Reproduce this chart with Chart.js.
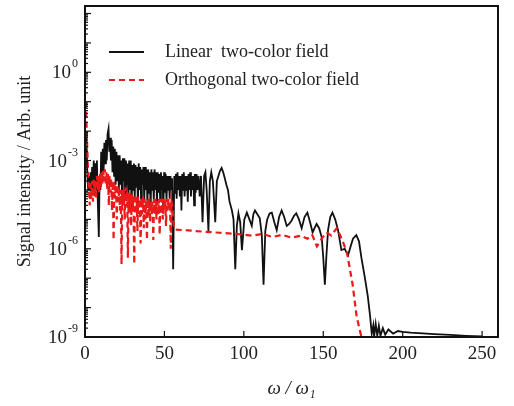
<!DOCTYPE html>
<html>
<head>
<meta charset="utf-8">
<script src="https://cdn.jsdelivr.net/npm/chart.js@4"></script>
<style>
  html, body { margin: 0; padding: 0; background: #fff; }
  #wrap { width: 514px; height: 406px; }
</style>
</head>
<body>
<div id="wrap"><canvas id="hhgChart" width="514" height="406"></canvas></div>
<script>
// Datos del espectro
const legendLabels = ['Linear  two-color field', 'Orthogonal two-color field'];

const xTicks = [0, 50, 100, 150, 200, 250];
const yTickValues = [1e-9, 1e-6, 1e-3, 1];
const yTickExps = ['-9', '-6', '-3', '0'];

// Linear two-color field
const linearX = [
    0.8, 1.5, 2, 2.5, 3, 3.5, 4, 4.5, 5, 5.5,
    6, 6.5, 7, 7.5, 8, 8.7, 9.2, 9.7, 10.2, 10.7,
    11.2, 11.7, 12.2, 12.7, 13.2, 13.7, 14.2, 14.8, 15.3, 15.8,
    16.3, 16.8, 17.3, 17.8, 18.3, 18.8, 19.3, 19.8, 20.3, 20.8,
    21.3, 21.8, 22.3, 22.8, 23.3, 23.8, 24.3, 24.8, 25.3, 25.8,
    26.3, 26.8, 27.3, 27.8, 28.3, 28.8, 29.3, 29.8, 30.3, 30.8,
    31.3, 31.8, 32.3, 32.8, 33.3, 33.8, 34.3, 34.8, 35.3, 35.8,
    36.3, 36.8, 37.3, 37.8, 38.3, 38.8, 39.3, 39.8, 40.3, 40.8,
    41.3, 41.8, 42.3, 42.8, 43.3, 43.8, 44.3, 44.8, 45.3, 45.8,
    46.3, 46.8, 47.3, 47.8, 48.3, 48.8, 49.3, 49.8, 50.3, 50.8,
    51.3, 51.8, 52.3, 52.8, 53.3, 53.8, 54.3, 54.8, 55.5, 56.2,
    56.7, 57.2, 57.7, 58.2, 58.7, 59.2, 59.7, 60.2, 60.7, 61.2,
    61.7, 62.2, 62.7, 63.2, 63.7, 64.2, 64.7, 65.2, 65.7, 66.2,
    66.7, 67.2, 67.7, 68.2, 68.7, 69.2, 69.7, 70.2, 70.8, 71.5,
    72.2, 73, 74, 75, 75.8, 76.6, 77.7, 78.6, 79.5, 80.5,
    82, 83, 84, 85, 86, 87, 88, 89, 90, 91,
    92.5, 93.5, 94.6, 95.6, 96.6, 97.7, 98.8, 100.3, 101.9, 103.5,
    105, 106, 107, 108.5, 110, 111.3, 112.4, 113.5, 114.7, 116.2,
    117.6, 119.2, 120.7, 122.2, 123.8, 125.4, 127, 128.5, 130, 131.5,
    133, 134.7, 136.4, 138.2, 140, 141.7, 143.3, 144.5, 145.8, 147.4,
    149, 150, 151, 152, 153, 154.4, 155.8, 157.5, 159.3, 161.4,
    163.5, 165.6, 167.2, 168.7, 170.8, 172.5, 174, 176, 178, 179.5,
    180.5, 181.5, 182, 183, 184, 185, 186, 187.5, 189, 191,
    194, 197, 200, 205, 210, 220, 230, 240, 250
];
const linearY = [
    1e-2, 3e-4, 1e-4, 3e-4, 1e-4, 4e-4, 8e-5, 6e-4, 1e-4, 1e-3,
    2e-4, 8e-4, 1e-4, 1e-3, 5e-5, 2.5e-6, 3e-4, 1e-4, 2e-3, 3e-4,
    2.5e-3, 4e-4, 4e-3, 8e-4, 5e-3, 1e-3, 8e-3, 1.2e-2, 2e-3, 6e-3,
    1e-3, 5e-3, 4e-4, 3e-3, 3e-4, 2.5e-3, 1.5e-4, 2e-3, 2e-4, 1.5e-3,
    1e-4, 1.5e-3, 1.5e-4, 1e-3, 6e-5, 1.2e-3, 2e-4, 1.2e-3, 5e-5, 1e-3,
    1.5e-4, 8e-4, 4e-5, 1e-3, 1e-4, 1e-3, 2e-5, 7e-4, 1e-4, 8e-4,
    5e-5, 7e-4, 1.2e-4, 6e-4, 3e-5, 8e-4, 1e-4, 6e-4, 5e-5, 5e-4,
    1.5e-4, 6e-4, 4e-5, 6e-4, 1e-4, 5e-4, 3e-5, 5e-4, 8e-5, 4e-4,
    2e-5, 5e-4, 1e-4, 4e-4, 4e-5, 5e-4, 1e-4, 4e-4, 3e-5, 4e-4,
    8e-5, 3.5e-4, 5e-5, 4e-4, 1e-4, 3e-4, 2e-5, 4e-4, 8e-5, 3.5e-4,
    4e-5, 3e-4, 1e-4, 3e-4, 5e-5, 3e-4, 1e-4, 2.5e-4, 2e-7, 3e-4,
    8e-5, 3.5e-4, 5e-5, 4e-4, 1e-4, 3e-4, 6e-5, 3e-4, 2e-5, 3.5e-4,
    1e-4, 4e-4, 6e-5, 3e-4, 1e-4, 3e-4, 4e-5, 3.5e-4, 1e-4, 4e-4,
    6e-5, 3e-4, 1e-4, 3e-4, 3e-5, 3.5e-4, 8e-5, 3.5e-4, 1e-4, 3e-4,
    6e-5, 3e-4, 8e-6, 3e-4, 4e-4, 1e-4, 4e-6, 2e-4, 4e-4, 2e-4,
    8e-6, 2e-4, 3e-4, 4.5e-4, 5.6e-4, 4e-4, 2.5e-4, 1.5e-4, 1e-4, 4e-5,
    2e-5, 1e-5, 2e-7, 6e-6, 1.6e-5, 8e-6, 9e-7, 1e-5, 1.7e-5, 1e-5,
    6e-6, 1.5e-5, 2e-5, 1.5e-5, 1.1e-5, 3e-6, 6e-8, 4e-6, 1e-5, 1.6e-5,
    1.7e-5, 8e-6, 4.3e-6, 1.2e-5, 2e-5, 1.2e-5, 6e-6, 7e-6, 9e-6, 1.3e-5,
    1.6e-5, 1e-5, 5e-6, 1.2e-5, 1.7e-5, 8e-6, 3.6e-6, 5e-6, 7e-6, 5e-6,
    2.5e-6, 5e-7, 6e-8, 6e-7, 4.3e-6, 1.2e-5, 1.7e-5, 1e-5, 4.3e-6, 9e-7,
    1e-6, 6e-7, 1.2e-6, 2.2e-6, 2.9e-6, 1.8e-6, 5e-7, 1.2e-7, 2.5e-8, 5e-9,
    1.3e-9, 2.5e-9, 1e-9, 2.8e-9, 1.1e-9, 2.4e-9, 1.1e-9, 2e-9, 1.2e-9, 1.8e-9,
    1.3e-9, 1.6e-9, 1.5e-9, 1.4e-9, 1.35e-9, 1.25e-9, 1.18e-9, 1.1e-9, 1.05e-9
];

// Orthogonal two-color field
const orthoX = [
    0.5, 1, 1.5, 2, 2.5, 3, 3.5, 4, 4.5, 5,
    5.5, 6, 6.5, 7, 7.5, 8, 8.5, 9, 9.5, 10,
    10.5, 11, 11.5, 12, 12.5, 13, 13.5, 14, 14.5, 15,
    15.5, 16, 16.5, 17, 17.5, 18, 18.5, 19, 19.5, 20,
    20.5, 21, 21.5, 22, 22.5, 23, 23.5, 24, 24.5, 25,
    25.5, 26, 26.5, 27, 27.5, 28, 28.5, 29, 29.5, 30,
    30.5, 31, 31.5, 32, 32.5, 33, 33.5, 34, 34.5, 35,
    35.5, 36, 36.5, 37, 37.5, 38, 38.5, 39, 39.5, 40,
    40.5, 41, 41.5, 42, 42.5, 43, 43.5, 44, 44.5, 45,
    45.5, 46, 46.5, 47, 47.5, 48, 48.5, 49, 49.5, 50,
    50.5, 51, 51.5, 52, 52.5, 53, 53.5, 54, 54.5, 55,
    56, 57, 65, 75, 85, 95, 105, 112, 118, 124,
    130, 136, 140, 143, 146, 149, 152, 155, 158.5, 162,
    165, 168.5, 171, 174
];
const orthoY = [
    1e-1, 1.5e-2, 2e-3, 3e-4, 1e-4, 3e-5, 2e-4, 5e-5, 2e-4, 4e-5,
    2.5e-4, 6e-5, 2e-4, 5e-5, 3e-4, 1e-4, 3e-4, 8e-5, 3.5e-4, 1.2e-4,
    4e-4, 1.5e-4, 4.5e-4, 2e-4, 5e-4, 1.5e-4, 4e-4, 1e-4, 3.5e-4, 3e-5,
    3e-4, 8e-5, 2.5e-4, 2e-5, 2e-4, 2e-6, 2e-4, 5e-5, 1.5e-4, 1e-5,
    1.5e-4, 4e-5, 1.2e-4, 2e-5, 1e-4, 3e-7, 1e-4, 3e-5, 1e-4, 1e-5,
    1.2e-4, 4e-5, 1e-4, 5e-7, 8e-5, 2e-5, 8e-5, 6e-6, 7e-5, 2e-5,
    6e-5, 3e-7, 7e-5, 1.5e-5, 6e-5, 4e-6, 6e-5, 1.5e-5, 5e-5, 1.5e-6,
    5e-5, 1.5e-5, 6e-5, 5e-6, 5e-5, 1e-5, 4e-5, 2e-6, 5e-5, 1.2e-5,
    5e-5, 8e-6, 4e-5, 1.5e-5, 4e-5, 2e-6, 5e-5, 1.5e-5, 5e-5, 1e-5,
    4e-5, 1.5e-5, 5e-5, 3e-6, 5e-5, 1.5e-5, 5e-5, 1e-5, 5e-5, 2e-5,
    5e-5, 6e-6, 5e-5, 2e-5, 5e-5, 2e-5, 4e-5, 1e-6, 4e-5, 3e-5,
    5e-6, 4.5e-6, 4.2e-6, 3.8e-6, 3.5e-6, 3.2e-6, 2.8e-6, 3.2e-6, 2.5e-6, 3e-6,
    2.4e-6, 2.8e-6, 2.2e-6, 3e-6, 1.2e-6, 2.2e-6, 3.6e-6, 2.8e-6, 5e-6, 2e-6,
    7e-7, 6e-8, 5e-9, 1e-9
];

const serif = '"Liberation Serif", "Times New Roman", serif';

// Marco, marcas interiores, etiquetas del eje Y y leyenda
const framePlugin = {
    id: 'framePlugin',
    afterDraw(chart) {
        const ctx = chart.ctx;
        const area = chart.chartArea;
        const xs = chart.scales.x;
        const ys = chart.scales.y;
        ctx.save();
        ctx.strokeStyle = '#111';

        // marcas del eje X
        ctx.lineWidth = 1.2;
        xTicks.forEach(v => {
            const px = xs.getPixelForValue(v);
            ctx.beginPath();
            ctx.moveTo(px, area.bottom);
            ctx.lineTo(px, area.bottom - 6);
            ctx.stroke();
        });

        // marcas del eje Y (decadas y menores)
        for (let e = -9; e <= 2; e++) {
            for (let m = 1; m <= 9; m++) {
                const v = m * Math.pow(10, e);
                if (v < ys.min || v > ys.max) continue;
                const py = ys.getPixelForValue(v);
                ctx.beginPath();
                ctx.moveTo(area.left, py);
                ctx.lineTo(area.left + (m === 1 ? 6 : 3), py);
                ctx.stroke();
            }
        }

        // marco
        ctx.lineWidth = 2;
        ctx.strokeRect(area.left, area.top, area.right - area.left, area.bottom - area.top);

        // etiquetas 10^n
        ctx.fillStyle = '#222';
        ctx.textBaseline = 'middle';
        yTickValues.forEach((v, i) => {
            const py = ys.getPixelForValue(v);
            ctx.font = '12px ' + serif;
            const expW = ctx.measureText(yTickExps[i]).width;
            ctx.font = '19px ' + serif;
            const baseW = ctx.measureText('10').width;
            const right = area.left - 7;
            ctx.textAlign = 'left';
            ctx.fillText('10', right - expW - baseW - 1, py + 1);
            ctx.font = '12px ' + serif;
            ctx.fillText(yTickExps[i], right - expW, py - 8);
        });

        // leyenda
        const lx0 = area.left + 24;
        const lx1 = area.left + 59;
        const rows = [area.top + 46, area.top + 74];
        ctx.lineWidth = 2;
        ctx.strokeStyle = '#111';
        ctx.beginPath();
        ctx.moveTo(lx0, rows[0]);
        ctx.lineTo(lx1, rows[0]);
        ctx.stroke();
        ctx.strokeStyle = 'rgb(235,25,25)';
        ctx.setLineDash([6, 4]);
        ctx.beginPath();
        ctx.moveTo(lx0, rows[1]);
        ctx.lineTo(lx1, rows[1]);
        ctx.stroke();
        ctx.setLineDash([]);
        ctx.font = '18px ' + serif;
        ctx.fillStyle = '#222';
        ctx.textAlign = 'left';
        ctx.fillText(legendLabels[0], area.left + 80, rows[0]);
        ctx.fillText(legendLabels[1], area.left + 80, rows[1]);
        ctx.restore();
    }
};

const ctx = document.getElementById('hhgChart').getContext('2d');
new Chart(ctx, {
    type: 'line',
    data: {
        datasets: [{
            label: legendLabels[0],
            data: linearX.map((x, i) => ({ x: x, y: linearY[i] })),
            borderColor: '#111',
            borderWidth: 1.8,
            pointRadius: 0,
            tension: 0,
            order: 2
        }, {
            label: legendLabels[1],
            data: orthoX.map((x, i) => ({ x: x, y: orthoY[i] })),
            borderColor: 'rgb(235,25,25)',
            borderWidth: 2.2,
            borderDash: [6, 4],
            pointRadius: 0,
            tension: 0,
            order: 1
        }]
    },
    plugins: [framePlugin],
    options: {
        responsive: false,
        animation: false,
        layout: { padding: { top: 6, right: 16, left: 0, bottom: 0 } },
        plugins: {
            legend: { display: false },
            tooltip: { enabled: false }
        },
        scales: {
            x: {
                type: 'linear',
                min: 0,
                max: 260,
                afterBuildTicks: scale => { scale.ticks = xTicks.map(v => ({ value: v })); },
                afterFit: scale => { scale.height = 69; },
                grid: { display: false, drawTicks: false },
                border: { display: false },
                ticks: {
                    padding: 6,
                    color: '#222',
                    font: { family: serif, size: 19 },
                    maxRotation: 0
                },
                title: {
                    display: true,
                    text: 'ω / ω₁',
                    color: '#222',
                    font: { family: serif, size: 19, style: 'italic' },
                    padding: { top: 0, bottom: 6 }
                }
            },
            y: {
                type: 'logarithmic',
                min: 1e-9,
                max: 180,
                afterBuildTicks: scale => { scale.ticks = yTickValues.map(v => ({ value: v })); },
                afterFit: scale => { scale.width = 85; },
                grid: { display: false, drawTicks: false },
                border: { display: false },
                ticks: { display: false },
                title: {
                    display: true,
                    text: 'Signal intensity / Arb. unit',
                    color: '#222',
                    font: { family: serif, size: 18 },
                    padding: { top: 14, bottom: 0 }
                }
            }
        }
    }
});
</script>
</body>
</html>
